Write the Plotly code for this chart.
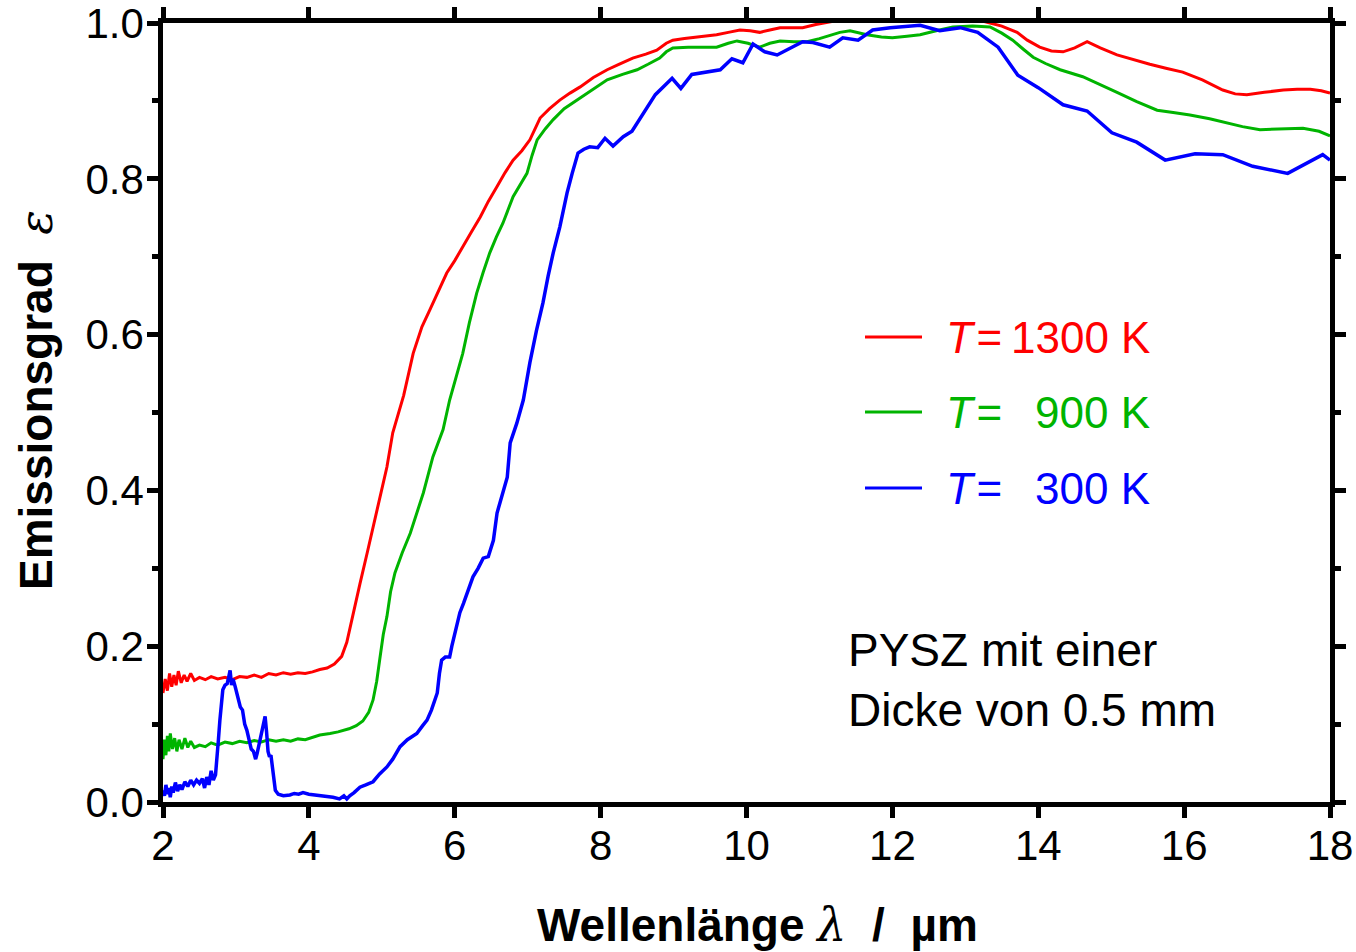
import plotly.graph_objects as go

# ---------------- data ----------------
x_1300 = [2.00, 2.03, 2.06, 2.09, 2.12, 2.15, 2.18, 2.21, 2.25, 2.29, 2.33, 2.38, 2.43, 2.50, 2.58, 2.66,
          2.75, 2.85, 2.95, 3.05, 3.15, 3.25, 3.35, 3.45, 3.55, 3.65, 3.75, 3.85, 3.95, 4.05, 4.15, 4.25,
          4.35, 4.45, 4.52, 4.60, 4.70, 4.80, 4.90, 4.975, 5.07, 5.15, 5.22, 5.30, 5.43, 5.55, 5.66, 5.77,
          5.89, 6.00, 6.11, 6.23, 6.35, 6.46, 6.58, 6.69, 6.80, 6.92, 7.03, 7.10, 7.17, 7.30, 7.44, 7.58,
          7.72, 7.90, 8.09, 8.25, 8.44, 8.62, 8.77, 8.90, 8.99, 9.15, 9.36, 9.59, 9.75, 9.91, 10.05, 10.18,
          10.32, 10.46, 10.62, 10.77, 10.95, 11.10, 11.40, 11.80, 12.20, 12.60, 13.00, 13.34, 13.50, 13.71,
          13.85, 14.02, 14.18, 14.34, 14.50, 14.67, 14.85, 15.08, 15.30, 15.53, 15.75, 15.98, 16.25, 16.53,
          16.70, 16.86, 17.10, 17.36, 17.55, 17.73, 17.88, 18.00]
y_1300 = [0.140, 0.158, 0.143, 0.165, 0.148, 0.163, 0.150, 0.168, 0.153, 0.163, 0.155, 0.165, 0.156, 0.160, 0.157, 0.161,
          0.158, 0.160, 0.157, 0.161, 0.160, 0.163, 0.160, 0.165, 0.163, 0.166, 0.164, 0.166, 0.165, 0.167, 0.170, 0.172,
          0.177, 0.187, 0.205, 0.240, 0.280, 0.320, 0.360, 0.388, 0.430, 0.474, 0.495, 0.522, 0.576, 0.610, 0.632, 0.655,
          0.679, 0.695, 0.712, 0.732, 0.751, 0.771, 0.790, 0.808, 0.824, 0.836, 0.850, 0.865, 0.878, 0.890, 0.901, 0.910,
          0.918, 0.930, 0.940, 0.947, 0.955, 0.960, 0.965, 0.974, 0.978, 0.980, 0.982, 0.985, 0.988, 0.991, 0.990, 0.988,
          0.991, 0.994, 0.994, 0.994, 0.998, 1.001, 1.006, 1.010, 1.012, 1.012, 1.008, 1.000, 0.996, 0.988,
          0.978, 0.969, 0.964, 0.963, 0.968, 0.976, 0.968, 0.959, 0.953, 0.947, 0.942, 0.937, 0.927, 0.914,
          0.909, 0.908, 0.911, 0.914, 0.915, 0.915, 0.913, 0.910]

x_900 = [2.00, 2.02, 2.04, 2.06, 2.08, 2.10, 2.13, 2.16, 2.19, 2.22, 2.26, 2.30, 2.34, 2.38, 2.43, 2.50,
         2.58, 2.66, 2.75, 2.85, 2.95, 3.05, 3.15, 3.25, 3.35, 3.45, 3.55, 3.65, 3.75, 3.85, 3.95, 4.05,
         4.15, 4.29, 4.40, 4.55, 4.65, 4.74, 4.82, 4.88, 4.93, 4.97, 5.02, 5.07, 5.12, 5.18, 5.28, 5.39,
         5.48, 5.57, 5.70, 5.84, 5.93, 6.02, 6.11, 6.20, 6.30, 6.39, 6.48, 6.57, 6.66, 6.80, 6.92, 6.99,
         7.06, 7.13, 7.24, 7.35, 7.50, 7.68, 7.90, 8.09, 8.30, 8.50, 8.65, 8.81, 8.90, 8.99, 9.20, 9.36,
         9.59, 9.75, 9.87, 10.02, 10.18, 10.32, 10.46, 10.65, 10.83, 11.00, 11.10, 11.28, 11.42, 11.55, 11.65, 11.85,
         12.00, 12.20, 12.38, 12.60, 12.83, 13.10, 13.34, 13.50, 13.65, 13.80, 13.93, 14.10, 14.30, 14.61, 14.85, 15.08,
         15.35, 15.63, 15.85, 16.08, 16.35, 16.59, 16.80, 17.04, 17.30, 17.63, 17.85, 18.00]
y_900 = [0.055, 0.080, 0.060, 0.085, 0.065, 0.088, 0.068, 0.082, 0.065, 0.080, 0.068, 0.082, 0.070, 0.078, 0.070, 0.073,
         0.071, 0.076, 0.073, 0.077, 0.075, 0.078, 0.076, 0.079, 0.077, 0.080, 0.078, 0.080, 0.078, 0.081, 0.080, 0.083,
         0.086, 0.088, 0.090, 0.094, 0.098, 0.104, 0.115, 0.131, 0.155, 0.182, 0.215, 0.238, 0.270, 0.294, 0.320, 0.345,
         0.370, 0.397, 0.443, 0.478, 0.516, 0.545, 0.576, 0.615, 0.653, 0.680, 0.705, 0.725, 0.743, 0.777, 0.795, 0.807,
         0.830, 0.850, 0.864, 0.876, 0.890, 0.901, 0.915, 0.927, 0.934, 0.940, 0.947, 0.955, 0.963, 0.968, 0.969, 0.969,
         0.969, 0.974, 0.977, 0.974, 0.969, 0.974, 0.977, 0.976, 0.976, 0.980, 0.983, 0.988, 0.990, 0.987, 0.985, 0.982,
         0.981, 0.983, 0.985, 0.990, 0.995, 0.996, 0.995, 0.987, 0.978, 0.966, 0.956, 0.948, 0.940, 0.931, 0.921, 0.911,
         0.899, 0.888, 0.885, 0.882, 0.877, 0.872, 0.867, 0.863, 0.864, 0.865, 0.861, 0.855]

x_300 = [2.00, 2.02, 2.04, 2.06, 2.08, 2.10, 2.12, 2.14, 2.17, 2.20, 2.23, 2.26, 2.30, 2.34, 2.38, 2.42,
         2.46, 2.50, 2.54, 2.57, 2.60, 2.63, 2.66, 2.69, 2.72, 2.74, 2.76, 2.78, 2.80, 2.82, 2.85, 2.88,
         2.90, 2.92, 2.94, 2.96, 2.99, 3.03, 3.06, 3.09, 3.12, 3.15, 3.18, 3.21, 3.24, 3.27, 3.29, 3.32,
         3.35, 3.38, 3.40, 3.42, 3.44, 3.46, 3.48, 3.50, 3.52, 3.54, 3.58, 3.65, 3.74, 3.80, 3.86, 3.92,
         4.00, 4.10, 4.20, 4.33, 4.42, 4.48, 4.52, 4.56, 4.62, 4.70, 4.78, 4.88, 4.97, 5.07, 5.15, 5.25,
         5.35, 5.48, 5.56, 5.62, 5.68, 5.76, 5.79, 5.82, 5.87, 5.93, 5.96, 6.00, 6.07, 6.12, 6.18, 6.25,
         6.32, 6.39, 6.46, 6.53, 6.58, 6.65, 6.72, 6.76, 6.85, 6.94, 7.03, 7.12, 7.21, 7.28, 7.35, 7.44,
         7.54, 7.61, 7.69, 7.77, 7.85, 7.96, 8.06, 8.17, 8.31, 8.43, 8.57, 8.75, 8.98, 9.10, 9.25, 9.40,
         9.64, 9.80, 9.95, 10.09, 10.25, 10.42, 10.60, 10.77, 10.91, 11.14, 11.32, 11.53, 11.73, 11.97, 12.38, 12.65,
         12.93, 13.17, 13.45, 13.72, 14.00, 14.34, 14.67, 15.01, 15.35, 15.74, 16.15, 16.53, 16.94, 17.42, 17.90, 18.00]
y_300 = [0.015, 0.008, 0.022, 0.010, 0.018, 0.006, 0.020, 0.012, 0.025, 0.014, 0.022, 0.016, 0.026, 0.020, 0.028, 0.022,
         0.028, 0.024, 0.030, 0.018, 0.032, 0.022, 0.040, 0.028, 0.035, 0.054, 0.080, 0.105, 0.125, 0.144, 0.150, 0.152,
         0.160, 0.169, 0.150, 0.158, 0.148, 0.135, 0.122, 0.118, 0.100, 0.092, 0.080, 0.068, 0.065, 0.055, 0.062, 0.075,
         0.085, 0.100, 0.110, 0.090, 0.065, 0.058, 0.060, 0.045, 0.025, 0.015, 0.010, 0.008, 0.009, 0.011, 0.010, 0.012,
         0.010, 0.009, 0.008, 0.006, 0.004, 0.008, 0.004, 0.008, 0.012, 0.019, 0.022, 0.026, 0.036, 0.045, 0.055, 0.071,
         0.080, 0.088, 0.098, 0.105, 0.118, 0.140, 0.165, 0.182, 0.186, 0.186, 0.200, 0.217, 0.243, 0.255, 0.272, 0.289,
         0.300, 0.313, 0.315, 0.336, 0.371, 0.395, 0.417, 0.461, 0.486, 0.516, 0.564, 0.605, 0.641, 0.675, 0.705, 0.738,
         0.782, 0.807, 0.833, 0.838, 0.841, 0.840, 0.852, 0.842, 0.854, 0.861, 0.882, 0.908, 0.929, 0.916, 0.934, 0.936,
         0.940, 0.954, 0.949, 0.973, 0.963, 0.959, 0.968, 0.976, 0.975, 0.969, 0.981, 0.978, 0.991, 0.994, 0.997, 0.990,
         0.994, 0.988, 0.969, 0.933, 0.917, 0.895, 0.887, 0.859, 0.847, 0.824, 0.832, 0.831, 0.816, 0.807, 0.831, 0.824]

series_labels = ["1300 K", "900 K", "300 K"]
x_ticks = [2, 4, 6, 8, 10, 12, 14, 16, 18]
y_ticks = [0.0, 0.2, 0.4, 0.6, 0.8, 1.0]
y_tick_text = ["0.0", "0.2", "0.4", "0.6", "0.8", "1.0"]

# ---------------- styles ----------------
RED = "#FF0000"
GREEN = "#00B400"
BLUE = "#0000FF"
FONT = "Liberation Sans, Arial, sans-serif"

fig = go.Figure()
for xs, ys, col, w, name in [(x_1300, y_1300, RED, 3.0, series_labels[0]),
                             (x_900, y_900, GREEN, 3.0, series_labels[1]),
                             (x_300, y_300, BLUE, 3.5, series_labels[2])]:
    fig.add_trace(go.Scatter(x=xs, y=ys, mode="lines", name=name,
                             line=dict(color=col, width=w), showlegend=False))

L, R, T, B = 163, 26, 23, 150
W, H = 1356, 952

axis_common = dict(showline=True, linecolor="black", linewidth=4.5, mirror="allticks",
                   ticks="outside", tickcolor="black", tickwidth=4.5, ticklen=11,
                   showgrid=False, zeroline=False, automargin=False,
                   ticklabeloverflow="allow",
                   tickfont=dict(family=FONT, size=42, color="black"))

fig.update_xaxes(range=[2, 18], tickvals=x_ticks, ticktext=[str(v) for v in x_ticks],
                 ticklabelstandoff=-8, **axis_common)
fig.update_yaxes(range=[0, 1.0], tickvals=y_ticks, ticktext=y_tick_text,
                 ticklabelstandoff=-5,
                 minor=dict(dtick=0.1, tick0=0, ticks="outside", ticklen=6,
                            tickwidth=4.5, tickcolor="black", showgrid=False),
                 **axis_common)

def px_x(p):
    return (p - L) / (W - L - R)

def px_y(p):
    return (H - B - p) / (H - T - B)

annotations = []
# axis titles
annotations.append(dict(
    text="Wellenlänge <span style='font-family:DejaVu Serif;font-weight:normal'><i>λ</i></span>  /  µm",
    x=px_x(757), y=px_y(925), xref="paper", yref="paper", showarrow=False,
    xanchor="center", yanchor="middle",
    font=dict(family=FONT, size=46, color="black", weight="bold")))
annotations.append(dict(
    text="Emissionsgrad  <span style='font-family:DejaVu Serif;font-weight:normal'><i>ε</i></span>",
    x=px_x(36), y=px_y(400), xref="paper", yref="paper", showarrow=False,
    xanchor="center", yanchor="middle", textangle=-90,
    font=dict(family=FONT, size=46, color="black", weight="bold")))
# sample note
annotations.append(dict(
    text="PYSZ mit einer<br>Dicke von 0.5 mm",
    x=px_x(846), y=px_y(622), xref="paper", yref="paper", showarrow=False,
    xanchor="left", yanchor="top", align="left",
    font=dict(family=FONT, size=46, color="black")))

# legend (lines as shapes, labels as annotations)
shapes = []
for lab, col, ypx in [(series_labels[0], RED, 337), (series_labels[1], GREEN, 412),
                      (series_labels[2], BLUE, 488)]:
    shapes.append(dict(type="line", xref="paper", yref="paper",
                       x0=px_x(865), x1=px_x(922), y0=px_y(ypx), y1=px_y(ypx),
                       line=dict(color=col, width=3)))
    annotations.append(dict(text="<i>T</i>\u200a=", x=px_x(944), y=px_y(ypx),
                            xref="paper", yref="paper", showarrow=False,
                            xanchor="left", yanchor="middle",
                            font=dict(family=FONT, size=44, color=col)))
    annotations.append(dict(text=lab, x=px_x(1152), y=px_y(ypx),
                            xref="paper", yref="paper", showarrow=False,
                            xanchor="right", yanchor="middle",
                            font=dict(family=FONT, size=44, color=col)))

fig.update_layout(width=W, height=H, margin=dict(l=L, r=R, t=T, b=B),
                  paper_bgcolor="white", plot_bgcolor="white",
                  annotations=annotations, shapes=shapes, showlegend=False,
                  font=dict(family=FONT, color="black"))

fig.write_html("out.html")
